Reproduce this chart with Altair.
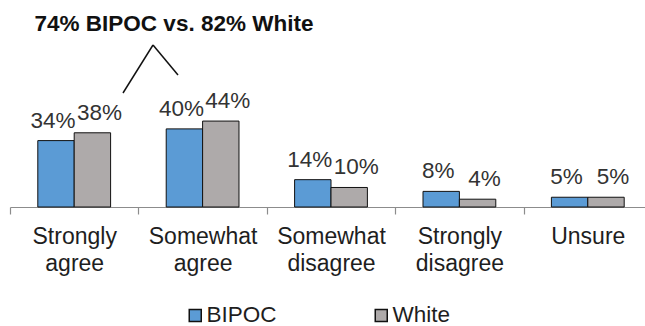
import altair as alt
import pandas as pd

categories = ["Strongly agree", "Somewhat agree", "Somewhat disagree", "Strongly disagree", "Unsure"]
groups = ["BIPOC", "White"]
bipoc = [34, 40, 14, 8, 5]
white = [38, 44, 10, 4, 5]
colors = ["#5B9BD5", "#AEAAAA"]
headline = "74% BIPOC vs. 82% White"

rows = []
for c, b, w in zip(categories, bipoc, white):
    rows.append({"cat": c, "grp": "BIPOC", "val": b, "lab": f"{b}%"})
    rows.append({"cat": c, "grp": "White", "val": w, "lab": f"{w}%"})
df = pd.DataFrame(rows)

FONT = "Liberation Sans"

x = alt.X("cat:N", sort=categories, title=None,
          scale=alt.Scale(paddingInner=0, paddingOuter=0, range=[0, 642]),
          axis=alt.Axis(labelExpr="split(datum.label, ' ')", labelAngle=0,
                        labelFontSize=23, labelFont=FONT, labelColor="#1E1E1E",
                        labelLineHeight=27, labelPadding=11, tickSize=7,
                        tickBand="extent", domainColor="#8C8C8C", tickColor="#8C8C8C",
                        domainWidth=1.2, tickWidth=1.2))
xo = alt.XOffset("grp:N", sort=groups, scale=alt.Scale(paddingInner=0, paddingOuter=0.764))
y = alt.Y("val:Q", axis=None, scale=alt.Scale(domain=[0, 106], nice=False))

bars = alt.Chart(df).mark_bar(stroke="#111111", strokeWidth=1).encode(
    x=x, xOffset=xo, y=y,
    color=alt.Color("grp:N", sort=groups, scale=alt.Scale(domain=groups, range=colors),
                    legend=alt.Legend(title=None, orient="none", legendX=174, legendY=304,
                                      direction="horizontal", symbolType="square",
                                      symbolSize=144, symbolStrokeColor="#111111",
                                      symbolStrokeWidth=1.5, labelFontSize=22.5, labelFont=FONT,
                                      labelColor="#1E1E1E", labelOffset=0, columnPadding=93,
                                      padding=0))
)

lab_b = alt.Chart(df[df.grp == "BIPOC"]).mark_text(
    fontSize=22.5, font=FONT, color="#333333", dy=-13, dx=-3, baseline="alphabetic"
).encode(x=x, xOffset=xo, y=y, text="lab:N")
lab_w = alt.Chart(df[df.grp == "White"]).mark_text(
    fontSize=22.5, font=FONT, color="#333333", dy=-13, dx=7, baseline="alphabetic"
).encode(x=x, xOffset=xo, y=y, text="lab:N")

one = pd.DataFrame({"t": [headline]})
title = alt.Chart(one).mark_text(fontSize=22.5, font=FONT, fontWeight="bold", color="#111111").encode(
    x=alt.value(164), y=alt.value(24), text="t:N")
l1 = alt.Chart(one).mark_rule(color="#111111", strokeWidth=1.5).encode(
    x=alt.value(113), y=alt.value(93), x2=alt.value(143), y2=alt.value(45))
l2 = alt.Chart(one).mark_rule(color="#111111", strokeWidth=1.5).encode(
    x=alt.value(143), y=alt.value(45), x2=alt.value(168), y2=alt.value(75))

chart = alt.layer(bars, lab_b, lab_w, title, l1, l2).properties(
    width=635, height=207,
    autosize=alt.AutoSizeParams(type="none"),
    padding={"left": 10, "top": 0, "right": 0, "bottom": 119},
).configure_view(stroke=None).resolve_scale(x="shared")

chart.save("out.html", embed_options={"renderer": "svg", "actions": False})
